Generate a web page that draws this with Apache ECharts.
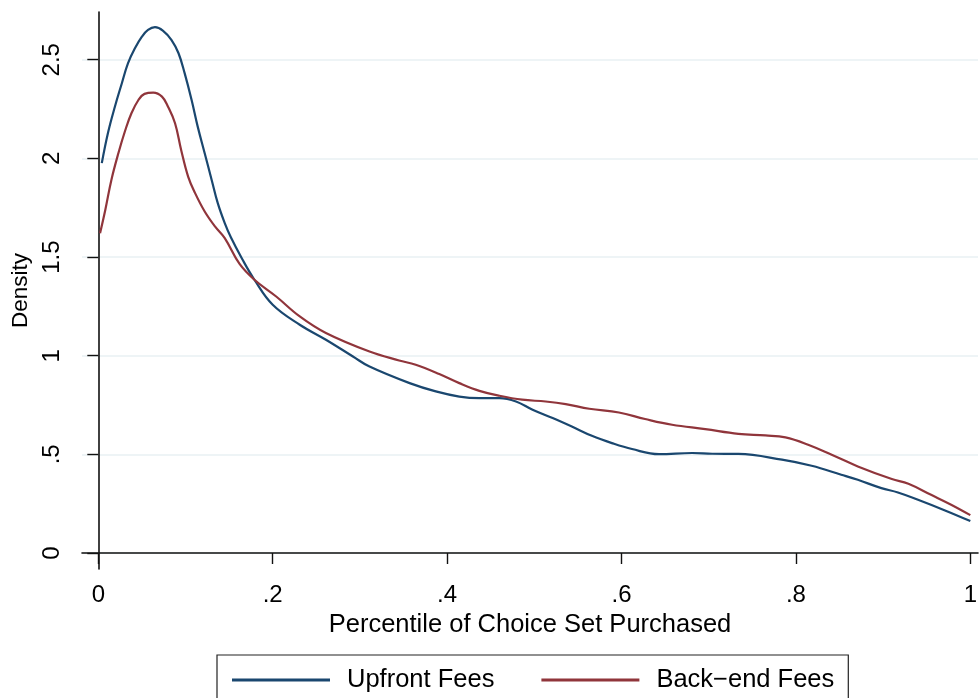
<!DOCTYPE html>
<html>
<head>
<meta charset="utf-8">
<script src="https://cdn.jsdelivr.net/npm/echarts@6/dist/echarts.min.js"></script>
<style>html,body{margin:0;padding:0;background:#fff;}#c{width:980px;height:698px;}</style>
</head>
<body>
<div id="c"></div>
<script>
const seriesNames = ['Upfront Fees', 'Back\u2212end Fees'];
const upfrontX = [0.004,0.011,0.019,0.027,0.034,0.042,0.050,0.057,0.065,0.074,0.084,0.092,0.099,0.107,0.114,0.122,0.130,0.137,0.145,0.152,0.165,0.179,0.200,0.231,0.261,0.292,0.311,0.357,0.387,0.414,0.437,0.460,0.479,0.498,0.521,0.543,0.566,0.589,0.612,0.643,0.681,0.704,0.734,0.784,0.818,0.852,0.871,0.898,0.917,0.940,0.971,1.0];
const upfrontY = [1.976,2.128,2.262,2.381,2.482,2.558,2.617,2.651,2.665,2.648,2.600,2.533,2.432,2.296,2.161,2.026,1.891,1.773,1.672,1.600,1.490,1.385,1.258,1.157,1.081,0.996,0.945,0.861,0.819,0.793,0.785,0.785,0.768,0.726,0.684,0.641,0.594,0.557,0.527,0.501,0.507,0.503,0.502,0.473,0.442,0.397,0.371,0.329,0.307,0.270,0.216,0.162];
const backendX = [0.002,0.008,0.015,0.023,0.031,0.038,0.046,0.053,0.063,0.073,0.080,0.088,0.095,0.103,0.111,0.122,0.134,0.145,0.162,0.179,0.204,0.231,0.261,0.311,0.345,0.364,0.391,0.414,0.437,0.460,0.486,0.513,0.536,0.563,0.597,0.627,0.658,0.696,0.734,0.765,0.788,0.814,0.841,0.871,0.910,0.929,0.955,0.978,1.0];
const backendY = [1.621,1.739,1.891,2.026,2.144,2.229,2.296,2.327,2.333,2.313,2.262,2.178,2.043,1.908,1.824,1.731,1.654,1.596,1.465,1.385,1.300,1.199,1.115,1.021,0.976,0.954,0.907,0.861,0.822,0.797,0.777,0.768,0.755,0.731,0.712,0.679,0.650,0.628,0.604,0.596,0.586,0.549,0.498,0.439,0.375,0.351,0.295,0.245,0.192];
const xTicks = [0, 0.2, 0.4, 0.6, 0.8, 1];
const yTicks = [0, 0.5, 1, 1.5, 2, 2.5];
const xTitle = 'Percentile of Choice Set Purchased';
const yTitle = 'Density';

function fmt(v) {
  let s = String(Math.round(v * 10) / 10);
  if (s.startsWith('0.')) s = s.slice(1);
  return s;
}
const pairs = (xs, ys) => xs.map((x, i) => [x, ys[i]]);
const FONT = '"Liberation Sans", Arial, Helvetica, sans-serif';

const chart = echarts.init(document.getElementById('c'), null, {renderer: 'canvas'});
chart.setOption({
  animation: false,
  backgroundColor: '#ffffff',
  grid: {left: 82, right: 0, top: 12, bottom: 129, containLabel: false},
  xAxis: {
    type: 'value', min: -0.0187, max: 1.0088,
    axisLine: {show: true, lineStyle: {color: '#111', width: 1.6}},
    axisTick: {show: true, length: 11, lineStyle: {color: '#111', width: 1.4}, customValues: xTicks},
    axisLabel: {customValues: xTicks, formatter: fmt, color: '#000', fontSize: 24, fontFamily: FONT, margin: 14},
    splitLine: {show: false},
    name: xTitle, nameLocation: 'middle', nameGap: 38,
    nameTextStyle: {color: '#000', fontSize: 25.5, fontFamily: FONT}
  },
  yAxis: {
    type: 'value', min: -0.081, max: 2.742,
    axisLine: {show: true, lineStyle: {color: '#111', width: 1.6}},
    axisTick: {show: true, length: 11, lineStyle: {color: '#111', width: 1.4}, customValues: yTicks},
    axisLabel: {customValues: yTicks, formatter: fmt, rotate: 90, color: '#000', fontSize: 24, fontFamily: FONT, margin: 18},
    splitLine: {show: true, lineStyle: {color: '#e9f1f3', width: 1.6}},
    name: yTitle, nameLocation: 'middle', nameGap: 49, nameRotate: 90,
    nameTextStyle: {color: '#000', fontSize: 22.5, fontFamily: FONT}
  },
  legend: {
    left: 217, top: 655,
    padding: [12, 14, 12, 15],
    borderColor: '#222', borderWidth: 1.2,
    itemWidth: 98, itemHeight: 3, itemGap: 47,
    icon: 'rect',
    textStyle: {color: '#000', fontSize: 25.5, fontFamily: FONT, padding: [0, 0, 0, 12]},
    data: seriesNames
  },
  series: [
    {name: seriesNames[0], type: 'line', data: pairs(upfrontX, upfrontY), smooth: 0.4, showSymbol: false, clip: false,
     lineStyle: {color: '#1a476f', width: 2.2}, itemStyle: {color: '#1a476f'}},
    {name: seriesNames[1], type: 'line', data: pairs(backendX, backendY), smooth: 0.4, showSymbol: false, clip: false,
     lineStyle: {color: '#90353b', width: 2.2}, itemStyle: {color: '#90353b'}}
  ]
});
</script>
</body>
</html>
